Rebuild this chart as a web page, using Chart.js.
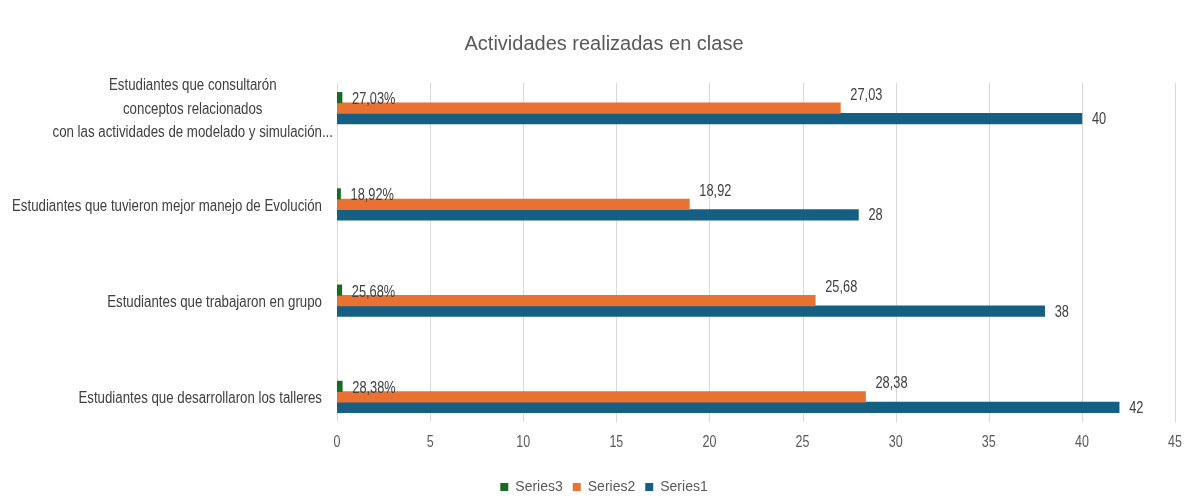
<!DOCTYPE html>
<html>
<head>
<meta charset="utf-8">
<style>
  html, body { margin: 0; padding: 0; background: #ffffff; }
  canvas { display: block; }
</style>
<script src="https://cdn.jsdelivr.net/npm/chart.js@4.4.1/dist/chart.umd.min.js"></script>
</head>
<body>
<canvas id="chart" width="1191" height="497"></canvas>
<script>
// Categories, top to bottom
const categories = [
  ["Estudiantes que consultarón", "conceptos relacionados", "con las actividades de modelado y simulación..."],
  "Estudiantes que tuvieron mejor manejo de Evolución",
  "Estudiantes que trabajaron en grupo",
  "Estudiantes que desarrollaron los talleres"
];
const seriesNames = ["Series3", "Series2", "Series1"];
const series3 = [0.2703, 0.1892, 0.2568, 0.2838];   // shares, shown as percentages
const series2 = [27.03, 18.92, 25.68, 28.38];
const series1 = [40, 28, 38, 42];
const xMin = 0, xMax = 45, xStep = 5;

const NARROW = "'Liberation Sans Narrow', 'Arial Narrow', sans-serif";
const COLORS = { s3: '#196B24', s2: '#E97132', s1: '#156082' };

const comma = (v, d) => v.toFixed(d).replace('.', ',');
const labelFormatters = [
  v => comma(v * 100, 2) + '%',
  v => comma(v, 2),
  v => String(v)
];
// Offsets of each series' value label relative to the bar end
const labelOffsets = [ { dx: 10, dy: 2 }, { dx: 10, dy: -13 }, { dx: 10, dy: 1 } ];

// Draws text squeezed horizontally to a condensed look
function condensedText(ctx, text, x, y, sx) {
  ctx.save();
  ctx.translate(x, y);
  ctx.scale(sx, 1);
  ctx.fillText(text, 0, 0);
  ctx.restore();
}

// Vertical gridlines drawn from the x scale ticks, inset from the plot edges
const gridLines = {
  id: 'gridLines',
  beforeDatasetsDraw(chart) {
    const { ctx, chartArea } = chart;
    const x = chart.scales.x;
    ctx.save();
    ctx.strokeStyle = '#d9d9d9';
    ctx.lineWidth = 1;
    x.ticks.forEach(t => {
      const px = Math.round(x.getPixelForValue(t.value)) + 0.5;
      ctx.beginPath();
      ctx.moveTo(px, chartArea.top + 23);
      ctx.lineTo(px, chartArea.bottom - 23);
      ctx.stroke();
    });
    ctx.restore();
  }
};

// Value axis tick labels, placed just under the gridlines
const xTickLabels = {
  id: 'xTickLabels',
  afterDraw(chart) {
    const { ctx, chartArea } = chart;
    const x = chart.scales.x;
    ctx.save();
    ctx.font = `16px ${NARROW}`;
    ctx.fillStyle = '#595959';
    ctx.textBaseline = 'middle';
    ctx.textAlign = 'center';
    x.ticks.forEach(t => {
      condensedText(ctx, String(t.value), x.getPixelForValue(t.value), chartArea.bottom - 2, 0.78);
    });
    ctx.restore();
  }
};

// Category labels: multi-line labels are centred line by line, block right-aligned
const categoryLabels = {
  id: 'categoryLabels',
  afterDraw(chart) {
    const { ctx, chartArea } = chart;
    const y = chart.scales.y;
    const sx = 0.83;
    ctx.save();
    ctx.font = `16px ${NARROW}`;
    ctx.fillStyle = '#404040';
    ctx.textBaseline = 'middle';
    ctx.textAlign = 'center';
    categories.forEach((label, i) => {
      const lines = Array.isArray(label) ? label : [label];
      const right = chartArea.left - (lines.length > 1 ? 4 : 15);
      const cy = y.getPixelForValue(i) + (lines.length > 1 ? 1 : 2);
      const w = Math.max(...lines.map(l => ctx.measureText(l).width)) * sx;
      const lh = 23.5;
      lines.forEach((line, j) => {
        condensedText(ctx, line, right - w / 2, cy + (j - (lines.length - 1) / 2) * lh, sx);
      });
    });
    ctx.restore();
  }
};

// Value labels next to each bar
const valueLabels = {
  id: 'valueLabels',
  afterDatasetsDraw(chart) {
    const { ctx } = chart;
    ctx.save();
    ctx.font = `16px ${NARROW}`;
    ctx.fillStyle = '#404040';
    ctx.textBaseline = 'middle';
    ctx.textAlign = 'left';
    chart.data.datasets.forEach((ds, di) => {
      const meta = chart.getDatasetMeta(di);
      meta.data.forEach((bar, i) => {
        const off = labelOffsets[di];
        condensedText(ctx, labelFormatters[di](ds.data[i]), bar.x + off.dx, bar.y + off.dy, 0.8);
      });
    });
    ctx.restore();
  }
};

new Chart(document.getElementById('chart'), {
  type: 'bar',
  data: {
    labels: categories,
    datasets: [
      { label: seriesNames[0], data: series3, backgroundColor: COLORS.s3 },
      { label: seriesNames[1], data: series2, backgroundColor: COLORS.s2 },
      { label: seriesNames[2], data: series1, backgroundColor: COLORS.s1 }
    ]
  },
  options: {
    indexAxis: 'y',
    responsive: false,
    animation: false,
    layout: { padding: { left: 33, right: 16, top: 0, bottom: -7 } },
    datasets: { bar: { barThickness: 10.5 } },
    scales: {
      x: {
        min: xMin, max: xMax,
        ticks: { stepSize: xStep, display: false },
        grid: { display: false },
        border: { display: false },
        afterFit(s) { s.height = 25; }
      },
      y: {
        type: 'category',
        ticks: { display: false },
        grid: { display: false },
        border: { display: false },
        afterFit(s) { s.width = 304; }
      }
    },
    plugins: {
      title: {
        display: true,
        text: 'Actividades realizadas en clase',
        color: '#595959',
        font: { family: NARROW, size: 20, weight: 'normal' },
        padding: { top: 32, bottom: 4 }
      },
      legend: {
        position: 'bottom',
        labels: {
          boxWidth: 8, boxHeight: 8, padding: 10,
          color: '#595959',
          font: { family: NARROW, size: 14 }
        }
      },
      tooltip: { enabled: false }
    }
  },
  plugins: [gridLines, valueLabels, categoryLabels, xTickLabels]
});
</script>
</body>
</html>
